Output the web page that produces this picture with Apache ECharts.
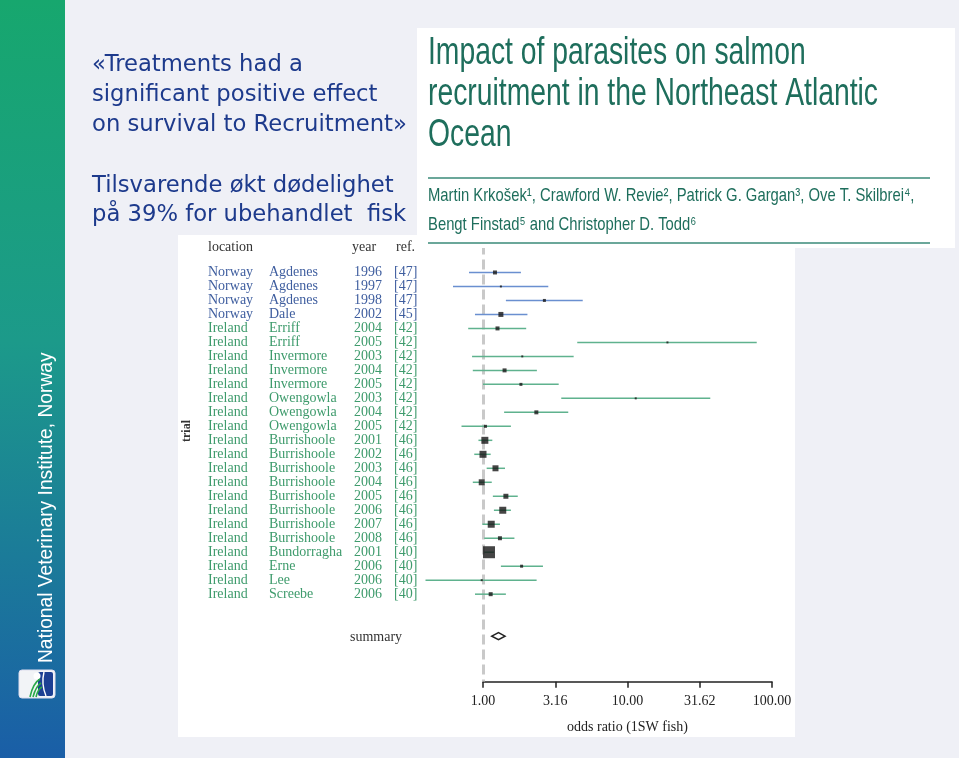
<!DOCTYPE html>
<html>
<head>
<meta charset="utf-8">
<script src="https://cdn.jsdelivr.net/npm/echarts@6/dist/echarts.min.js"></script>
<style>
html,body{margin:0;padding:0;background:#eff0f6;}
#chart{width:959px;height:758px;}
</style>
</head>
<body>
<div id="chart"></div>
<script>
// ---- data ----
const countries = ['Norway','Norway','Norway','Norway','Ireland','Ireland','Ireland','Ireland','Ireland','Ireland','Ireland','Ireland','Ireland','Ireland','Ireland','Ireland','Ireland','Ireland','Ireland','Ireland','Ireland','Ireland','Ireland','Ireland'];
const sites = ['Agdenes','Agdenes','Agdenes','Dale','Erriff','Erriff','Invermore','Invermore','Invermore','Owengowla','Owengowla','Owengowla','Burrishoole','Burrishoole','Burrishoole','Burrishoole','Burrishoole','Burrishoole','Burrishoole','Burrishoole','Bundorragha','Erne','Lee','Screebe'];
const years = ['1996','1997','1998','2002','2004','2005','2003','2004','2005','2003','2004','2005','2001','2002','2003','2004','2005','2006','2007','2008','2001','2006','2006','2006'];
const refs = ['[47]','[47]','[47]','[45]','[42]','[42]','[42]','[42]','[42]','[42]','[42]','[42]','[46]','[46]','[46]','[46]','[46]','[46]','[46]','[46]','[40]','[40]','[40]','[40]'];
const oddsRatio = [1.21,1.33,2.66,1.33,1.26,18.9,1.87,1.41,1.83,11.4,2.34,1.04,1.03,1.00,1.22,0.98,1.44,1.37,1.14,1.31,1.10,1.85,0.98,1.13];
const ciLower  = [0.80,0.62,1.44,0.88,0.79,4.49,0.84,0.85,1.00,3.48,1.40,0.71,0.93,0.87,1.06,0.85,1.17,1.19,0.99,1.02,1.02,1.33,0.40,0.88];
const ciUpper  = [1.83,2.83,4.90,2.03,1.99,78.4,4.24,2.36,3.34,37.4,3.89,1.56,1.16,1.13,1.42,1.15,1.74,1.56,1.31,1.65,1.19,2.60,2.35,1.44];
const weights  = [4,2,3,5,4,2,2,4,3,2,4,3,7,7,6,6,5,7,7,4,12,3,2,4];
const summaryOR = [1.15, 1.28, 1.42]; // lower, estimate, upper
const summaryRow = 26;
const axisTickLabels = ['1.00','3.16','10.00','31.62','100.00'];
const headers = ['location','year','ref.'];
const xAxisName = 'odds ratio (1SW fish)';

// ---- styles ----
const textColor = {Norway:'#3f5e9f', Ireland:'#3e9b6c'};
const lineColor = {Norway:'#6a8fd0', Ireland:'#5fb28e'};
const serif = '"Liberation Serif","DejaVu Serif",serif';
const slideFont = '22.7px "DejaVu Sans",Verdana,sans-serif';
const slideColor = '#1d3a8c';
const paperFont = '"Liberation Sans",Arial,sans-serif';
const paperColor = '#1e6e5c';

const chart = echarts.init(document.getElementById('chart'), null, {renderer:'canvas'});

const rowsIdx = countries.map((c,i)=>i);
const ciData = rowsIdx.map(i=>[ciLower[i], ciUpper[i], i]);
const ptData = rowsIdx.map(i=>[oddsRatio[i], i]);
const labelData = rowsIdx.map(i=>[1, i]);

const rowTop = 244.5, rowH = 437.1;

const option = {
  backgroundColor:'#eff0f6',
  animation:false,
  grid:[
    {left:410.75, top:rowTop, width:361.25, height:rowH, outerBoundsMode:'none', containLabel:false},
    {left:483, top:680.7, width:289, height:1, outerBoundsMode:'none', containLabel:false}
  ],
  xAxis:[
    {gridIndex:0, type:'log', logBase:10, min:Math.pow(10,-0.5), max:100, show:false},
    {gridIndex:1, type:'log', logBase:Math.sqrt(10), min:1, max:100, splitNumber:4, position:'bottom',
     axisLine:{show:true, lineStyle:{color:'#222', width:1.5}},
     axisTick:{show:true, length:6, inside:false, lineStyle:{color:'#222', width:1.5}},
     splitLine:{show:false},
     axisLabel:{show:true, margin:13, color:'#222', fontFamily:serif, fontSize:14,
       formatter:(v)=>{const idx=Math.round(Math.log(v)/Math.log(Math.sqrt(10))); return axisTickLabels[idx]!==undefined?axisTickLabels[idx]:'';}},
     name:xAxisName, nameLocation:'middle', nameGap:39,
     nameTextStyle:{color:'#222', fontFamily:serif, fontSize:14}}
  ],
  yAxis:[
    {gridIndex:0, type:'value', inverse:true, min:-2, max:29.25, show:false},
    {gridIndex:1, type:'value', min:0, max:1, show:false}
  ],
  series:[
    {
      type:'custom', name:'labels', xAxisIndex:0, yAxisIndex:0, clip:false, silent:true,
      data:labelData, encode:{x:0,y:1},
      renderItem:(params, api)=>{
        const i = api.value(1);
        const y = api.coord([1, i])[1];
        const c = textColor[countries[i]];
        const f = '14px ' + serif;
        const mk = (x, t)=>({type:'text', x:x, y:y, style:{text:t, fill:c, font:f, verticalAlign:'middle', align:'left'}});
        return {type:'group', children:[mk(208, countries[i]), mk(269, sites[i]), mk(354, years[i]), mk(394, refs[i])]};
      }
    },
    {
      type:'custom', name:'ci', xAxisIndex:0, yAxisIndex:0, clip:false, silent:true, z:3,
      data:ciData, encode:{x:[0,1], y:2},
      renderItem:(params, api)=>{
        const i = api.value(2);
        const p1 = api.coord([api.value(0), i]);
        const p2 = api.coord([api.value(1), i]);
        return {type:'line', shape:{x1:p1[0], y1:p1[1], x2:p2[0], y2:p2[1]},
          style:{stroke:lineColor[countries[i]], lineWidth:1.5}};
      }
    },
    {
      type:'scatter', name:'estimate', xAxisIndex:0, yAxisIndex:0, silent:true, z:4,
      data:ptData, symbol:'rect',
      symbolSize:(val, params)=>weights[params.dataIndex],
      itemStyle:{color:'#161616'},
      markLine:{silent:true, symbol:'none', z:1,
        label:{show:false},
        lineStyle:{type:[10,5], color:'#c9c9c9', width:3},
        data:[{xAxis:1}]}
    },
    {
      type:'custom', name:'summary', xAxisIndex:0, yAxisIndex:0, clip:false, silent:true, z:4,
      data:[[summaryOR[0], summaryOR[1], summaryOR[2], summaryRow]], encode:{x:[0,1,2], y:3},
      renderItem:(params, api)=>{
        const r = api.value(3);
        const lo = api.coord([api.value(0), r]);
        const mid = api.coord([api.value(1), r]);
        const hi = api.coord([api.value(2), r]);
        return {type:'group', children:[
          {type:'polygon', shape:{points:[[lo[0],lo[1]],[mid[0],mid[1]-3.5],[hi[0],hi[1]],[mid[0],mid[1]+3.5]]},
            style:{fill:'#fff', stroke:'#222', lineWidth:1.5}},
          {type:'text', x:350, y:lo[1]+1, style:{text:'summary', fill:'#333', font:'14px '+serif, verticalAlign:'middle'}}
        ]};
      }
    }
  ],
  graphic:[
    // sidebar
    {type:'rect', z:0, shape:{x:0,y:0,width:65,height:758},
     style:{fill:new echarts.graphic.LinearGradient(0,0,0,1,[
       {offset:0,color:'#17a76e'},{offset:0.45,color:'#1c9a8a'},{offset:1,color:'#1a5ea7'}])}},
    {type:'text', z:1, x:46, y:663, rotation:Math.PI/2, scaleX:0.96,
     style:{text:'National Veterinary Institute, Norway', fill:'#fff', font:'20px '+paperFont, verticalAlign:'middle', align:'left'}},
    // logo
    {type:'rect', z:1, shape:{x:19,y:670,width:36,height:28,r:3}, style:{fill:'#f2f4f7', stroke:'#dde', lineWidth:1}},
    {type:'rect', z:2, shape:{x:38,y:672,width:15,height:24,r:2}, style:{fill:'#1c3f93'}},
    {type:'circle', z:2, shape:{cx:37,cy:676,r:3.5}, style:{fill:'#fff'}},
    {type:'bezierCurve', z:3, shape:{x1:30,y1:697,x2:40,y2:679,cpx1:33,cpy1:683}, style:{stroke:'#2aa84a', lineWidth:1.6, fill:null}},
    {type:'bezierCurve', z:3, shape:{x1:33,y1:697,x2:41,y2:683,cpx1:36,cpy1:686}, style:{stroke:'#2aa84a', lineWidth:1.6, fill:null}},
    {type:'bezierCurve', z:3, shape:{x1:36,y1:697,x2:42,y2:687,cpx1:38,cpy1:689}, style:{stroke:'#2aa84a', lineWidth:1.6, fill:null}},
    {type:'bezierCurve', z:3, shape:{x1:44,y1:672,x2:46,y2:696,cpx1:41,cpy1:684}, style:{stroke:'#fff', lineWidth:1.4, fill:null}},
    // left texts
    {type:'text', z:1, x:92, y:65, style:{text:'«Treatments had a', fill:slideColor, font:slideFont, verticalAlign:'middle'}},
    {type:'text', z:1, x:92, y:95, style:{text:'significant positive effect', fill:slideColor, font:slideFont, verticalAlign:'middle'}},
    {type:'text', z:1, x:92, y:125, style:{text:'on survival to Recruitment»', fill:slideColor, font:slideFont, verticalAlign:'middle'}},
    {type:'text', z:1, x:92, y:186, style:{text:'Tilsvarende økt dødelighet', fill:slideColor, font:slideFont, verticalAlign:'middle'}},
    {type:'text', z:1, x:92, y:215, style:{text:'på 39% for ubehandlet  fisk', fill:slideColor, font:slideFont, verticalAlign:'middle'}},
    // plot panel
    {type:'rect', z:-1, shape:{x:178,y:235,width:617,height:502}, style:{fill:'#ffffff'}},
    {type:'text', z:1, x:208, y:247, style:{text:headers[0], fill:'#333', font:'14px '+serif, verticalAlign:'middle'}},
    {type:'text', z:1, x:352, y:247, style:{text:headers[1], fill:'#333', font:'14px '+serif, verticalAlign:'middle'}},
    {type:'text', z:1, x:396, y:247, style:{text:headers[2], fill:'#333', font:'14px '+serif, verticalAlign:'middle'}},
    {type:'text', z:1, x:187, y:431, rotation:Math.PI/2, style:{text:'trial', fill:'#333', font:'bold 12px '+serif, verticalAlign:'middle', align:'center'}},
    // paper header box
    {type:'rect', z:10, shape:{x:417,y:28,width:538,height:220}, style:{fill:'#ffffff'}},
    {type:'text', z:11, x:428, y:54, scaleX:0.745, style:{text:'Impact of parasites on salmon', fill:paperColor, font:'38px '+paperFont, verticalAlign:'middle'}},
    {type:'text', z:11, x:428, y:95, scaleX:0.745, style:{text:'recruitment in the Northeast Atlantic', fill:paperColor, font:'38px '+paperFont, verticalAlign:'middle'}},
    {type:'text', z:11, x:428, y:136, scaleX:0.745, style:{text:'Ocean', fill:paperColor, font:'38px '+paperFont, verticalAlign:'middle'}},
    {type:'line', z:11, shape:{x1:428,y1:178,x2:930,y2:178}, style:{stroke:'#3a8a78', lineWidth:1.5}},
    {type:'text', z:11, x:428, y:196, scaleX:0.78, style:{text:'Martin Krkošek¹, Crawford W. Revie², Patrick G. Gargan³, Ove T. Skilbrei⁴,', fill:paperColor, font:'19px '+paperFont, verticalAlign:'middle'}},
    {type:'text', z:11, x:428, y:225, scaleX:0.78, style:{text:'Bengt Finstad⁵ and Christopher D. Todd⁶', fill:paperColor, font:'19px '+paperFont, verticalAlign:'middle'}},
    {type:'line', z:11, shape:{x1:428,y1:243,x2:930,y2:243}, style:{stroke:'#3a8a78', lineWidth:1.5}}
  ]
};
chart.setOption(option);
</script>
</body>
</html>
